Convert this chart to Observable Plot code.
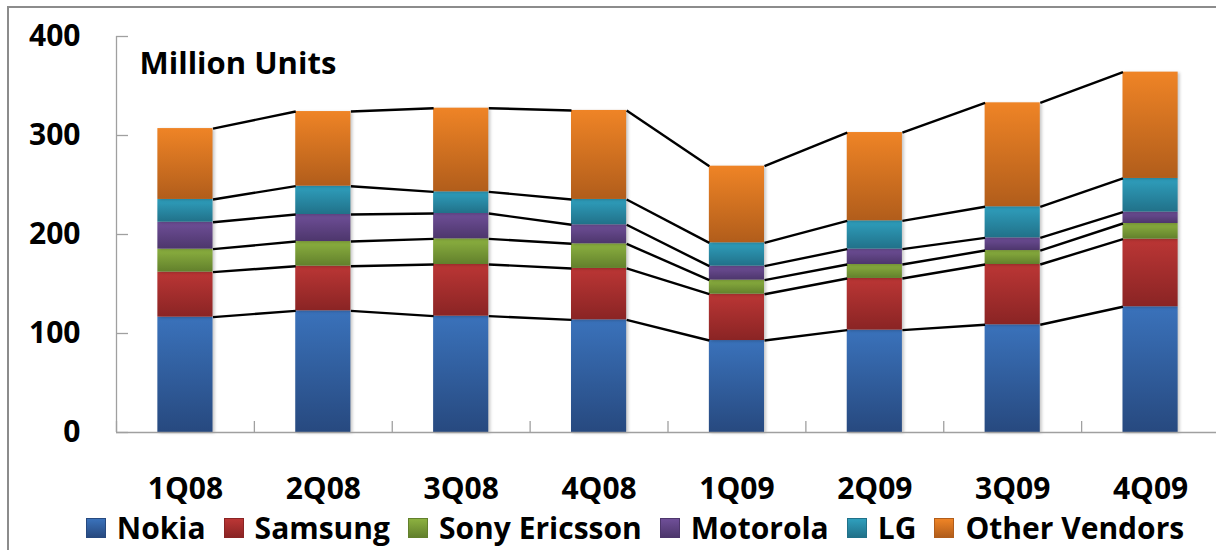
<!DOCTYPE html>
<html>
<head>
<meta charset="utf-8">
<script src="https://cdn.jsdelivr.net/npm/d3@7"></script>
<script src="https://cdn.jsdelivr.net/npm/@observablehq/plot@0.6"></script>
<style>
  html, body { margin: 0; padding: 0; background: #fff; }
  body { width: 1216px; height: 550px; position: relative; overflow: hidden;
         font-family: "Open Sans", sans-serif; font-weight: bold; }
  #border { position: absolute; left: 7px; top: 6px; width: 1300px; height: 700px;
            border-left: 2px solid #8c8c8c; border-top: 2px solid #8c8c8c; }
  #chart { position: absolute; left: 0; top: 0; }
  #legend { position: absolute; left: 83px; top: 513px; width: 1104px; height: 30px;
            display: flex; justify-content: center; align-items: center;
            font-size: 30px; line-height: 30px; color: #000; white-space: nowrap; }
  .item { display: flex; align-items: center; margin: 0 9px; }
  .item:first-child { margin-left: 0; }
  .item:last-child { margin-right: 0; }
  .sw { width: 20px; height: 20px; margin-right: 11px; box-sizing: border-box; }
</style>
</head>
<body>
<div id="border"></div>
<div id="chart"></div>
<div id="legend"></div>
<script>
// Quarterly handset shipments by vendor (million units)
const quarters = ["1Q08", "2Q08", "3Q08", "4Q08", "1Q09", "2Q09", "3Q09", "4Q09"];
const vendors = ["Nokia", "Samsung", "Sony Ericsson", "Motorola", "LG", "Other Vendors"];
const nokia        = [116.5, 122.9, 117.5, 113.8, 92.9, 103.4, 108.8, 127.0];
const samsung      = [45.5, 45.1, 52.2, 51.9, 46.8, 52.2, 60.9, 68.3];
const sonyEricsson = [23.2, 24.9, 25.9, 24.9, 14.2, 14.1, 14.1, 15.8];
const motorola     = [27.2, 27.3, 25.6, 19.2, 14.1, 15.5, 12.8, 11.5];
const lg           = [23.0, 28.6, 21.9, 25.6, 23.6, 28.6, 31.4, 34.0];
const others       = [71.6, 75.4, 84.5, 89.9, 77.4, 89.2, 105.0, 107.4];
const yTicks = [0, 100, 200, 300, 400];

// top / bottom shades of each vendor's vertical gradient
const gradTop    = ["#3a72bb", "#bb3635", "#8cb140", "#6f4f98", "#2f9fbd", "#ef8426"];
const gradBottom = ["#27497f", "#8a2424", "#62802c", "#4d366c", "#217189", "#b15d1b"];

const series = [nokia, samsung, sonyEricsson, motorola, lg, others];

// cumulative stack, built from the series arrays
const segments = [];
const cum = quarters.map(() => 0);
const levels = []; // level k = top of vendor k at each quarter
series.forEach((vals, k) => {
  const lvl = [];
  vals.forEach((v, i) => {
    segments.push({k, i, y1: cum[i], y2: cum[i] + v});
    cum[i] += v;
    lvl.push(cum[i]);
  });
  levels.push(lvl);
});

const half = 0.2;           // half bar width, in category units
const xDomain = [-0.5, quarters.length - 0.5];

// series lines joining the stack boundaries of neighbouring bars
const connectors = [];
levels.forEach(lvl => {
  for (let i = 0; i < lvl.length - 1; i++) {
    connectors.push({x1: i + half, y1: lvl[i], x2: i + 1 - half, y2: lvl[i + 1]});
  }
});

const boundaries = d3.range(quarters.length + 1).map(i => i - 0.5);
const axisGray = "#a0a0a0";

const svg = Plot.plot({
  width: 1216,
  height: 505,
  marginTop: 36,
  marginBottom: 73,
  marginLeft: 116,
  marginRight: -3,
  style: {fontFamily: "'Open Sans', sans-serif", fontSize: "30px", fontWeight: "bold", color: "#000", overflow: "visible"},
  x: {domain: xDomain, axis: null},
  y: {domain: [0, 400], axis: null},
  marks: [
    // y axis line and inward ticks
    Plot.ruleX([xDomain[0]], {y1: 0, y2: 400, stroke: axisGray, strokeWidth: 1.3}),
    Plot.ruleY(yTicks, {y: d => d, x1: xDomain[0], x2: xDomain[0], insetRight: -12, stroke: axisGray, strokeWidth: 1.3}),
    Plot.axisY(yTicks, {tickSize: 0, tickPadding: 36, label: null, fontSize: 30}),
    // stacked bars
    ...vendors.map((name, k) => Plot.rectY(segments.filter(s => s.k === k), {
      x1: d => d.i - half, x2: d => d.i + half, y1: "y1", y2: "y2",
      fill: `url(#grad-${k})`
    })),
    // series lines
    Plot.link(connectors, {x1: "x1", y1: "y1", x2: "x2", y2: "y2", stroke: "#000", strokeWidth: 2.4}),
    // x axis line and category separators
    Plot.ruleY([0], {stroke: axisGray, strokeWidth: 1.3}),
    Plot.ruleX(boundaries, {x: d => d, y1: 0, y2: 0, insetTop: -11, stroke: axisGray, strokeWidth: 1.3}),
    Plot.axisX(d3.range(quarters.length), {tickSize: 0, tickPadding: 45, tickFormat: i => quarters[i], label: null, fontSize: 30}),
    // unit label
    Plot.text(["Million Units"], {frameAnchor: "top-left", dx: 23, dy: 28, textAnchor: "start", lineAnchor: "middle", fontSize: 31})
  ]
});

// per-segment vertical gradients
const defs = d3.select(svg).insert("defs", ":first-child");
vendors.forEach((name, k) => {
  const g = defs.append("linearGradient").attr("id", `grad-${k}`)
    .attr("x1", 0).attr("y1", 0).attr("x2", 0).attr("y2", 1);
  g.append("stop").attr("offset", "0%").attr("stop-color", gradTop[k]);
  g.append("stop").attr("offset", "100%").attr("stop-color", gradBottom[k]);
});
// soft shadow on the bars
d3.select(svg).selectAll("g[aria-label='rect']").style("filter", "drop-shadow(2px 1px 1.5px rgba(0,0,0,0.22))");

document.getElementById("chart").appendChild(svg);

// legend
const legend = d3.select("#legend");
vendors.forEach((name, k) => {
  const item = legend.append("div").attr("class", "item");
  item.append("div").attr("class", "sw")
    .style("background", `linear-gradient(${gradTop[k]}, ${gradBottom[k]})`)
    .style("border", `1px solid ${gradBottom[k]}`);
  item.append("span").text(name);
});
</script>
</body>
</html>
